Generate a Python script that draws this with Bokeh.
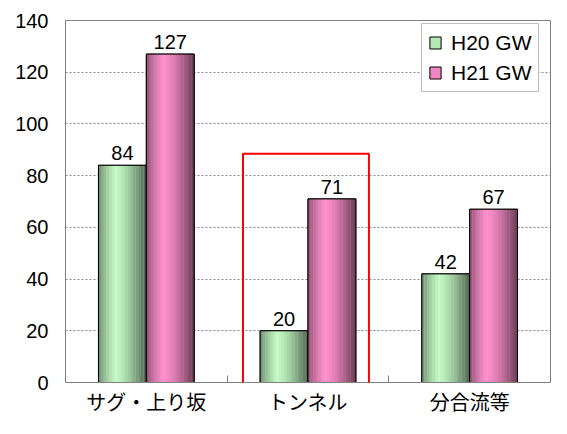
from bokeh.plotting import figure
from bokeh.models import (Range1d, FixedTicker, Legend, LegendItem, BoxAnnotation)
from bokeh.core.properties import value
from bokeh.embed import file_html
from bokeh.resources import INLINE

categories = ["サグ・上り坂", "トンネル", "分合流等"]
h20 = [84, 20, 42]
h21 = [127, 71, 67]
series_names = ["H20 GW", "H21 GW"]
y_ticks = [0, 20, 40, 60, 80, 100, 120, 140]

NUM_FONT = "Liberation Sans"
JP_FONT = "Noto Sans CJK JP"

p = figure(width=551, height=418, output_backend="svg", toolbar_location=None,
           x_range=Range1d(0, 3), y_range=Range1d(0, 140),
           min_border_left=65, min_border_right=1, min_border_top=20, min_border_bottom=31)
p.background_fill_color = "white"
p.border_fill_color = "white"
p.outline_line_color = "#808080"
p.outline_line_width = 1

BW = 0.296
OFF = 0.148
N = 18

def profile(t):
    if t < 0.35:
        return 0.52 + (1.0 - 0.52) * (t / 0.35) ** 0.7
    return 1.0 - (1.0 - 0.40) * ((t - 0.35) / 0.65) ** 1.4

def shade(base, f):
    r, g, b = base
    return "#%02x%02x%02x" % (int(r * f), int(g * f), int(b * f))

bases = [(198, 250, 198), (255, 146, 206)]
mids = ["#b4e8b4", "#ef88c0"]
offsets = [-OFF, OFF]
series = [h20, h21]

legend_items = []
for s_idx, vals in enumerate(series):
    xs = [i + 0.5 + offsets[s_idx] for i in range(len(categories))]
    base_r = p.vbar(x=xs, top=vals, width=BW, fill_color=mids[s_idx],
                    line_color="black", line_width=1)
    legend_items.append(LegendItem(label=series_names[s_idx], renderers=[base_r]))
    sx, st, sc = [], [], []
    for k in range(N):
        t = (k + 0.5) / N
        col = shade(bases[s_idx], profile(t))
        for i, v in enumerate(vals):
            sx.append(xs[i] - BW / 2 + BW * t)
            st.append(v)
            sc.append(col)
    p.vbar(x=sx, top=st, width=BW / N * 1.05, fill_color=sc, line_color=None)
    p.vbar(x=xs, top=vals, width=BW, fill_alpha=0, line_color="black", line_width=1)
    p.text(x=xs, y=vals, text=[str(v) for v in vals], text_align="center",
           text_baseline="alphabetic", y_offset=-12, text_font=value(NUM_FONT),
           text_font_size="20px", text_color="black")

box = BoxAnnotation(left=1.098, right=1.877, bottom=-2.3, top=88.5,
                    fill_alpha=0, line_color="#ff0000", line_alpha=1, line_width=2)
p.add_layout(box)

p.xaxis.ticker = FixedTicker(ticks=[0.5, 1.5, 2.5], minor_ticks=[1, 2])
p.xaxis.major_label_overrides = {0.5: categories[0], 1.5: categories[1], 2.5: categories[2]}
p.xaxis.major_tick_line_color = None
p.xaxis.major_tick_in = 0
p.xaxis.major_tick_out = 0
p.xaxis.minor_tick_in = 7
p.xaxis.minor_tick_out = 0
p.xaxis.minor_tick_line_color = "#808080"
p.xaxis.axis_line_color = "#808080"
p.xaxis.major_label_text_font = JP_FONT
p.xaxis.major_label_text_font_size = "20px"
p.xaxis.major_label_text_color = "black"
p.xaxis.major_label_text_line_height = 1.0
p.xaxis.major_label_standoff = 4

p.yaxis.ticker = FixedTicker(ticks=y_ticks)
p.yaxis.minor_tick_line_color = None
p.yaxis.major_tick_in = 0
p.yaxis.major_tick_out = 0
p.yaxis.axis_line_color = "#808080"
p.yaxis.major_label_text_font = NUM_FONT
p.yaxis.major_label_text_font_size = "20px"
p.yaxis.major_label_text_color = "black"
p.yaxis.major_label_standoff = 17

p.xgrid.grid_line_color = None
p.ygrid.grid_line_color = "#888888"
p.ygrid.grid_line_dash = "2 2"
p.ygrid.grid_line_width = 1

legend = Legend(items=legend_items, location=(356, 290), orientation="vertical")
legend.label_text_font = NUM_FONT
legend.label_text_font_size = "21px"
legend.label_text_color = "black"
legend.glyph_width = 14
legend.glyph_height = 15
legend.label_height = 25
legend.label_standoff = 9
legend.spacing = 5
legend.padding = 6
legend.margin = 0
legend.border_line_color = "#808080"
legend.border_line_width = 1
legend.background_fill_color = "white"
legend.background_fill_alpha = 1
p.add_layout(legend, "center")

open("out.html", "w").write(file_html(p, INLINE))
